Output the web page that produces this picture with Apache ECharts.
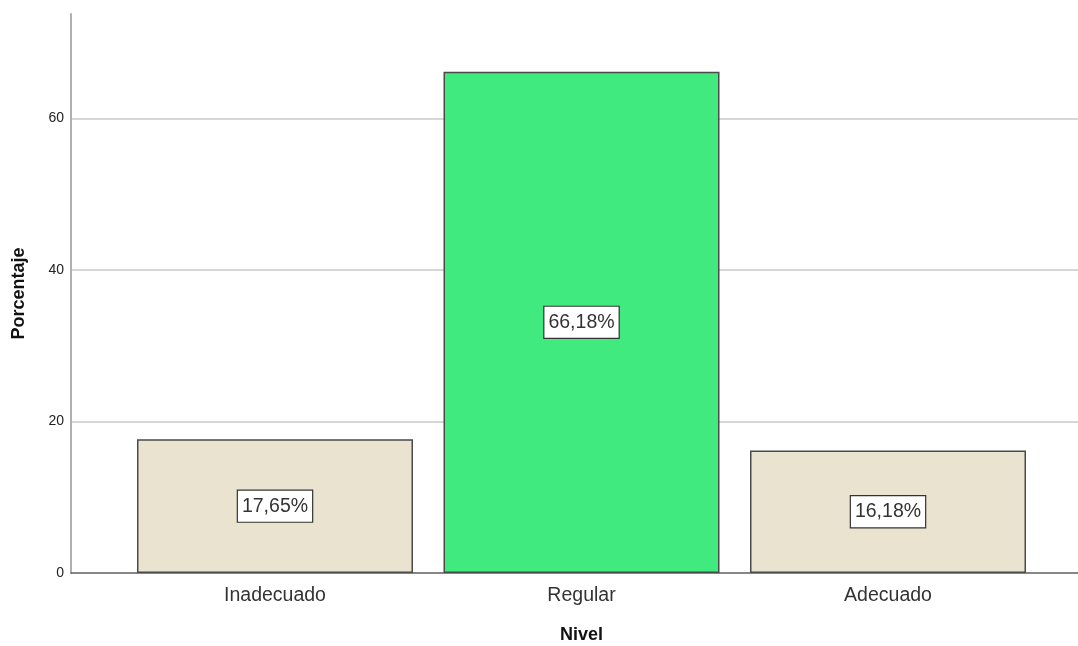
<!DOCTYPE html>
<html>
<head>
<meta charset="utf-8">
<script src="https://cdn.jsdelivr.net/npm/echarts@6/dist/echarts.min.js"></script>
<style>
  html, body { margin: 0; padding: 0; background: #fff; }
  #chart { width: 1078px; height: 646px; }
</style>
</head>
<body>
<div id="chart"></div>
<script>
// Distribución por nivel (porcentaje)
const categories = ['Inadecuado', 'Regular', 'Adecuado'];
const percentages = [17.65, 66.18, 16.18];
const barColors = ['#EAE3CF', '#41EA7F', '#EAE3CF'];
const yTicks = { min: 0, max: 73.8, step: 20 };

const fmtPct = v => v.toFixed(2).replace('.', ',') + '%';

const chart = echarts.init(document.getElementById('chart'), null, { renderer: 'canvas' });

const option = {
  backgroundColor: '#ffffff',
  animation: false,
  grid: [
    // frame: vertical axis, gridlines and baseline across the full width
    { left: 71, right: 0, top: 14, bottom: 73, containLabel: false, outerBoundsMode: 'none' },
    // bar area
    { left: 121.75, right: 36.75, top: 14, bottom: 73, containLabel: false, outerBoundsMode: 'none' }
  ],
  xAxis: [
    {
      gridIndex: 0, type: 'value', min: 0, max: 1,
      axisLine: { show: true, lineStyle: { color: '#5f5f5f', width: 1.5 } },
      axisTick: { show: false }, axisLabel: { show: false }, splitLine: { show: false }
    },
    {
      gridIndex: 1, type: 'category', data: categories,
      axisLine: { show: false }, axisTick: { show: false },
      axisLabel: { fontFamily: 'Liberation Sans, Arial, sans-serif', fontSize: 19.5, color: '#333', margin: 13 },
      name: 'Nivel', nameLocation: 'middle', nameGap: 53,
      nameTextStyle: { fontFamily: 'Liberation Sans, Arial, sans-serif', fontSize: 18, fontWeight: 'bold', color: '#111' }
    }
  ],
  yAxis: [
    {
      gridIndex: 0, type: 'value', min: yTicks.min, max: yTicks.max, interval: yTicks.step,
      axisLine: { show: true, lineStyle: { color: '#b0b0b0', width: 2 } },
      axisTick: { show: false },
      axisLabel: {
        fontFamily: 'Liberation Sans, Arial, sans-serif', fontSize: 14, color: '#222', margin: 7,
        showMaxLabel: false,
        formatter: v => (v % yTicks.step === 0 ? String(v) : '')
      },
      splitLine: { show: true, showMinLine: false, showMaxLine: false, lineStyle: { color: '#d6d6d6', width: 2 } },
      name: 'Porcentaje', nameLocation: 'middle', nameGap: 43,
      nameTextStyle: { fontFamily: 'Liberation Sans, Arial, sans-serif', fontSize: 18, fontWeight: 'bold', color: '#111' }
    },
    {
      gridIndex: 1, type: 'value', min: yTicks.min, max: yTicks.max, show: false
    }
  ],
  series: [
    {
      type: 'bar',
      xAxisIndex: 1, yAxisIndex: 1,
      barWidth: 276,
      data: percentages.map((v, i) => ({ value: v, itemStyle: { color: barColors[i] } })),
      itemStyle: { borderColor: '#4a4a4a', borderWidth: 1.5 },
      label: {
        show: true, position: 'inside',
        formatter: p => fmtPct(p.value),
        fontFamily: 'Liberation Sans, Arial, sans-serif', fontSize: 19.5, color: '#333',
        backgroundColor: '#ffffff', borderColor: '#333', borderWidth: 1.2,
        padding: [7, 4, 4, 4]
      }
    }
  ]
};

chart.setOption(option);
</script>
</body>
</html>
